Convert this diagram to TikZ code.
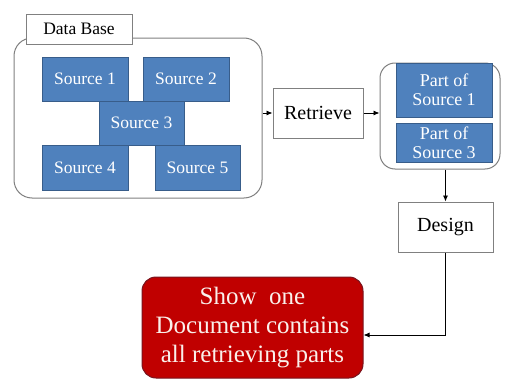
\documentclass[tikz,border=0pt]{standalone}
\usepackage{fontspec}
\setmainfont{Liberation Serif}
\usetikzlibrary{arrows.meta,calc}
\definecolor{srcblue}{RGB}{79,129,189}
\definecolor{srcedge}{RGB}{56,93,138}
\definecolor{resred}{RGB}{192,0,0}
\definecolor{rededge}{RGB}{120,20,30}
\definecolor{frame}{RGB}{128,128,128}
\definecolor{lighttext}{RGB}{250,240,235}
\tikzset{
  sized/.style 2 args={rectangle, inner sep=0pt, minimum width=#1, minimum height=#2},
  container/.style={draw=frame, line width=1pt, fill=white, rounded corners=18pt},
  whitebox/.style={draw=frame, line width=1pt, fill=white, align=center},
  srcbox/.style={draw=srcedge, line width=0.8pt, fill=srcblue, text=white, align=center,
    font=\fontsize{17.5}{19}\selectfont},
  partbox/.style={draw=srcedge, line width=0.8pt, fill=srcblue, text=white, align=center,
    font=\fontsize{18}{19}\selectfont},
  resultbox/.style={draw=rededge, line width=1pt, fill=resred, text=lighttext, align=center,
    rounded corners=14pt, font=\fontsize{25}{29}\selectfont},
  arr/.style={draw=black, line width=0.8pt, -{Latex[length=6pt,width=5pt]}}
}
\begin{document}
\begin{tikzpicture}[x=1pt,y=-1pt]
\useasboundingbox (0,0) rectangle (507,380);

% database container and its caption
\node[container, sized={248pt}{160pt}] (db) at (138,118) {};
\node[whitebox, sized={106pt}{30pt}, font=\fontsize{17.5}{19}\selectfont] (dblabel) at (79,29) {Data Base};

% the five sources
\node[srcbox, sized={86pt}{44pt}] (s1) at (85,79) {Source 1};
\node[srcbox, sized={86pt}{44pt}] (s2) at (186,79) {Source 2};
\node[srcbox, sized={85pt}{44pt}] (s3) at (141.5,123) {Source 3};
\node[srcbox, sized={86pt}{45pt}] (s4) at (85,167.5) {Source 4};
\node[srcbox, sized={85pt}{45pt}] (s5) at (197.5,167.5) {Source 5};

% retrieval step
\node[whitebox, sized={90pt}{50pt}, font=\fontsize{20}{22}\selectfont] (retr) at (318,113) {Retrieve};

% retrieved parts
\node[container, rounded corners=15pt, sized={120pt}{106pt}] (parts) at (440,116) {};
\node[partbox, sized={96pt}{54pt}] (p1) at (444,90) {Part of\\Source 1};
\node[partbox, sized={96pt}{39pt}] (p3) at (444,142.5) {Part of\\Source 3};

% design step
\node[whitebox, sized={95pt}{50pt}, font=\fontsize{20}{22}\selectfont] (des) at (445.5,227) {Design};

% final document
\node[resultbox, sized={221pt}{101pt}] (res) at (252.5,327.5) {Show\ \ one\\Document contains\\all retrieving parts};

% connectors
\draw[arr] (db.east |- retr.west) -- (retr.west);
\draw[arr] (retr.east) -- (parts.west |- retr.east);
\draw[arr] (des.north |- parts.south) -- (des.north);
\draw[arr] (des.south) |- ($(res.east)+(0,7.5)$);
\end{tikzpicture}
\end{document}
